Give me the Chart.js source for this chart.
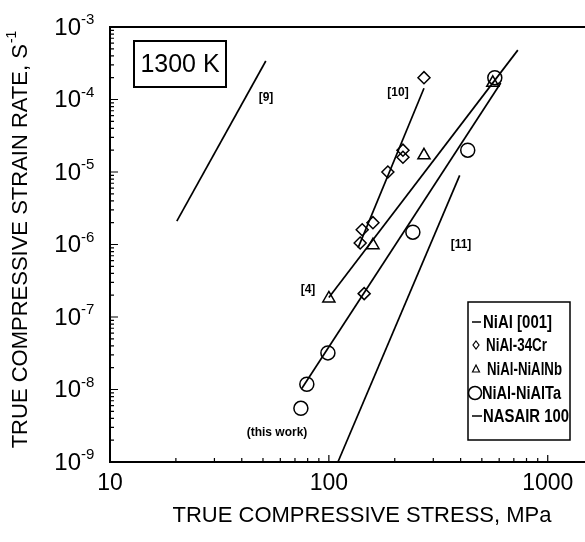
<!DOCTYPE html>
<html lang="en">
<head>
<meta charset="UTF-8">
<title>NiAl creep at 1300 K</title>
<script src="https://cdn.jsdelivr.net/npm/chart.js"></script>
<style>
  html, body { margin: 0; padding: 0; background: #fff; }
</style>
</head>
<body>
<canvas id="myChart" width="585" height="542"></canvas>
<script>
// measured points: stress (MPa) and strain rate (1/s)
const crStress = [272, 218, 218, 186, 159, 142, 139, 145];
const crRate = [2.0e-4, 2.0e-5, 1.6e-5, 1.0e-5, 2.0e-6, 1.6e-6, 1.05e-6, 2.1e-7];
const nbStress = [100, 159, 272, 561];
const nbRate = [1.8e-7, 9.8e-7, 1.7e-5, 1.7e-4];
const taStress = [74.5, 79.3, 99, 242, 431, 573];
const taRate = [5.5e-9, 1.18e-8, 3.2e-8, 1.48e-6, 2.0e-5, 2.0e-4];

// fitted / literature lines, two end points each
const ref9Stress = [20.2, 51.5];
const ref9Rate = [2.1e-6, 3.4e-4];
const ref10Stress = [136, 272];
const ref10Rate = [9.0e-7, 1.43e-4];
const ref4Stress = [100, 730];
const ref4Rate = [1.86e-7, 4.8e-4];
const thisStress = [75.2, 610];
const thisRate = [1.03e-8, 1.69e-4];
const ref11Stress = [110, 396];
const ref11Rate = [1e-9, 9.0e-6];

const xTickVals = [10, 100, 1000];
const yTickExps = [-9, -8, -7, -6, -5, -4, -3];

const legendNames = ['NiAl [001]', 'NiAl-34Cr', 'NiAl-NiAlNb', 'NiAl-NiAlTa', 'NASAIR 100'];

const FONT = '"Liberation Sans", Arial, Helvetica, sans-serif';

function pts(xs, ys) {
  return xs.map((x, i) => ({ x: x, y: ys[i] }));
}

function lineSet(xs, ys) {
  return { data: pts(xs, ys), showLine: true, pointRadius: 0, borderColor: '#000', borderWidth: 1.7 };
}

function markSet(xs, ys, style, r) {
  return {
    data: pts(xs, ys), showLine: false, pointStyle: style, pointRadius: r,
    borderColor: '#000', backgroundColor: 'rgba(0,0,0,0)', pointBorderWidth: 1.5
  };
}

// squeeze text to a given width (the legend uses a narrow face)
function narrowText(ctx, s, x, y, w) {
  const real = ctx.measureText(s).width;
  ctx.save();
  ctx.translate(x, y);
  ctx.scale(w / real, 1);
  ctx.fillText(s, 0, 0);
  ctx.restore();
}

// axes, ticks, labels, legend and notes
const frame = {
  id: 'frame',
  afterDraw(chart) {
    const ctx = chart.ctx;
    const xs = chart.scales.x, ys = chart.scales.y;
    const a = chart.chartArea;
    ctx.save();
    ctx.strokeStyle = '#000';
    ctx.fillStyle = '#000';

    ctx.lineWidth = 2;
    ctx.beginPath();
    ctx.moveTo(a.right, a.top);
    ctx.lineTo(a.left, a.top);
    ctx.lineTo(a.left, a.bottom);
    ctx.lineTo(a.right, a.bottom);
    ctx.stroke();

    // inward ticks
    ctx.lineWidth = 1.2;
    ctx.beginPath();
    for (let e = 1; e <= 3; e++) {
      for (let m = 1; m <= 9; m++) {
        const v = m * Math.pow(10, e);
        if (v > xs.max) continue;
        const px = xs.getPixelForValue(v);
        const len = m === 1 ? 7 : 4;
        ctx.moveTo(px, a.bottom);
        ctx.lineTo(px, a.bottom - len);
      }
    }
    for (let e = -9; e <= -3; e++) {
      for (let m = 1; m <= 9; m++) {
        if (e === -3 && m > 1) continue;
        const py = ys.getPixelForValue(m * Math.pow(10, e));
        const len = m === 1 ? 8 : 4;
        ctx.moveTo(a.left, py);
        ctx.lineTo(a.left + len, py);
      }
    }
    ctx.stroke();

    // x tick labels
    ctx.font = '23px ' + FONT;
    ctx.textAlign = 'center';
    ctx.textBaseline = 'middle';
    xTickVals.forEach(v => {
      ctx.fillText(String(v), xs.getPixelForValue(v), 484);
    });

    // y tick labels 10^n
    yTickExps.forEach(e => {
      const py = ys.getPixelForValue(Math.pow(10, e));
      ctx.font = '24px ' + FONT;
      ctx.textAlign = 'right';
      ctx.fillText('10', 81, py + 1);
      ctx.font = '15px ' + FONT;
      ctx.textAlign = 'left';
      ctx.fillText(String(e), 81, py - 7);
    });

    // axis titles
    ctx.font = '22px ' + FONT;
    ctx.textAlign = 'center';
    ctx.fillText('TRUE COMPRESSIVE STRESS, MPa', 362, 516);

    ctx.save();
    ctx.translate(21, 240);
    ctx.rotate(-Math.PI / 2);
    const main = 'TRUE COMPRESSIVE STRAIN RATE, S';
    ctx.font = '22px ' + FONT;
    const w1 = ctx.measureText(main).width;
    ctx.font = '14px ' + FONT;
    const w2 = ctx.measureText('-1').width;
    const x0 = -(w1 + w2) / 2;
    ctx.textAlign = 'left';
    ctx.font = '22px ' + FONT;
    ctx.fillText(main, x0, 0);
    ctx.font = '14px ' + FONT;
    ctx.fillText('-1', x0 + w1 + 1, -9);
    ctx.restore();

    // temperature box
    ctx.lineWidth = 2;
    ctx.strokeRect(134, 41, 92, 46);
    ctx.font = '25px ' + FONT;
    ctx.textAlign = 'center';
    ctx.fillText('1300 K', 180, 65);

    // reference notes
    ctx.font = 'bold 12px ' + FONT;
    ctx.fillText('[9]', 266, 98);
    ctx.fillText('[10]', 398, 93);
    ctx.fillText('[11]', 461, 245);
    ctx.fillText('[4]', 308, 290);
    ctx.fillText('(this work)', 277, 433);

    // legend
    ctx.lineWidth = 1.5;
    ctx.strokeRect(468, 302, 102, 138);
    const rows = [322, 345, 369, 393, 416];
    ctx.beginPath();
    ctx.moveTo(472, rows[0]); ctx.lineTo(481, rows[0]);
    ctx.moveTo(472, rows[4]); ctx.lineTo(482, rows[4]);
    ctx.stroke();
    ctx.lineWidth = 1.2;
    ctx.beginPath();
    ctx.moveTo(476, rows[1] - 4); ctx.lineTo(479, rows[1]); ctx.lineTo(476, rows[1] + 4); ctx.lineTo(473, rows[1]); ctx.closePath();
    ctx.moveTo(476, rows[2] - 4); ctx.lineTo(479.5, rows[2] + 3); ctx.lineTo(472.5, rows[2] + 3); ctx.closePath();
    ctx.stroke();
    ctx.lineWidth = 1.5;
    ctx.beginPath();
    ctx.arc(475, rows[3], 6.5, 0, Math.PI * 2);
    ctx.stroke();
    ctx.font = 'bold 19px ' + FONT;
    ctx.textAlign = 'left';
    const tx = [483, 486, 487, 482, 483];
    const tw = [69, 61, 75, 79, 86];
    legendNames.forEach((s, i) => narrowText(ctx, s, tx[i], rows[i] + 1, tw[i]));

    ctx.restore();
  }
};

const data = {
  datasets: [
    lineSet(ref9Stress, ref9Rate),
    lineSet(ref10Stress, ref10Rate),
    lineSet(ref4Stress, ref4Rate),
    lineSet(thisStress, thisRate),
    lineSet(ref11Stress, ref11Rate),
    markSet(crStress, crRate, 'rectRot', 6),
    markSet(nbStress, nbRate, 'triangle', 7),
    markSet(taStress, taRate, 'circle', 7)
  ]
};

const config = {
  type: 'scatter',
  data,
  options: {
    responsive: false,
    animation: false,
    layout: { autoPadding: false, padding: { left: 110, top: 27, right: 0, bottom: 80 } },
    plugins: { legend: { display: false }, tooltip: { enabled: false } },
    scales: {
      x: { type: 'logarithmic', min: 10, max: 1480, display: false },
      y: { type: 'logarithmic', min: 1e-9, max: 1e-3, display: false }
    }
  },
  plugins: [frame]
};

const myChart = new Chart(document.getElementById('myChart'), config);
</script>
</body>
</html>
